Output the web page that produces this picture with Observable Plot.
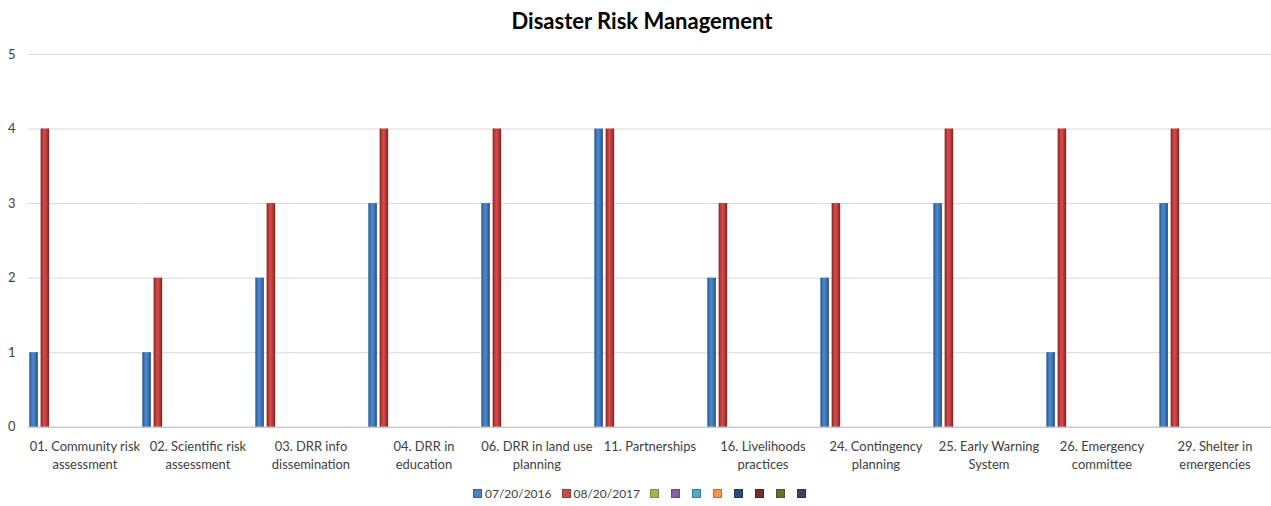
<!DOCTYPE html>
<html>
<head>
<meta charset="utf-8">
<script src="https://cdn.jsdelivr.net/npm/d3@7"></script>
<script src="https://cdn.jsdelivr.net/npm/@observablehq/plot@0.6"></script>
<style>
  html, body { margin: 0; padding: 0; background: #fff; overflow: hidden; }
  body { width: 1271px; height: 506px; font-family: Lato, "Open Sans", sans-serif; }
  #title { height: 40px; box-sizing: border-box; padding-top: 9px; padding-left: 13px; text-align: center; font-size: 22px; font-weight: bold; color: #000; line-height: 24px; }
  #chart { height: 440px; }
  #legend { height: 26px; display: flex; justify-content: center; align-items: center; padding-left: 20px; font-size: 12px; color: #404040; }
  .item { display: flex; align-items: center; margin-right: 10px; }
  .sw { width: 7px; height: 7px; margin-right: 3px; border: 0.5px solid rgba(0,0,0,0.25); }
</style>
</head>
<body>
<div id="title">Disaster Risk Management</div>
<div id="chart"></div>
<div id="legend"></div>
<script>
// ---- data ----
const categories = [
  "01. Community risk assessment", "02. Scientific risk assessment", "03. DRR info dissemination",
  "04. DRR in education", "06. DRR in land use planning", "11. Partnerships",
  "16. Livelihoods practices", "24. Contingency planning", "25. Early Warning System",
  "26. Emergency committee", "29. Shelter in emergencies"
];
const tickLabels = [
  "01. Community risk\nassessment", "02. Scientific risk\nassessment", "03. DRR info\ndissemination",
  "04. DRR in\neducation", "06. DRR in land use\nplanning", "11. Partnerships",
  "16. Livelihoods\npractices", "24. Contingency\nplanning", "25. Early Warning\nSystem",
  "26. Emergency\ncommittee", "29. Shelter in\nemergencies"
];
const values2016 = [1, 1, 2, 3, 3, 4, 2, 2, 3, 1, 3];
const values2017 = [4, 2, 3, 4, 4, 4, 3, 3, 4, 4, 4];
const seriesKeys = ["07/20/2016", "08/20/2017", "S3", "S4", "S5", "S6", "S7", "S8", "S9", "S10"];
const seriesLabels = ["07/20/2016", "08/20/2017", "", "", "", "", "", "", "", ""];
const seriesColors = ["#4f81bd", "#c0504d", "#9bbb59", "#8064a2", "#4bacc6", "#f79646", "#2c4d75", "#772c2a", "#5f7530", "#4d3b62"];
const yTicks = [0, 1, 2, 3, 4, 5];

const data = [];
categories.forEach((c, i) => {
  data.push({category: c, series: seriesKeys[0], value: values2016[i]});
  data.push({category: c, series: seriesKeys[1], value: values2017[i]});
});

const chart = Plot.plot({
  width: 1275,
  height: 440,
  marginLeft: 28,
  marginRight: 0,
  marginTop: 14,
  marginBottom: 52,
  style: {fontFamily: "Lato, 'Open Sans', sans-serif", background: "transparent"},
  fx: {domain: categories, padding: 0, round: false, axis: null, label: null},
  x: {domain: seriesKeys, padding: 0, round: false, axis: null, label: null},
  y: {domain: [0, 5], axis: null, label: null},
  marks: [
    Plot.gridY(yTicks, {stroke: "#d9d9d9", strokeOpacity: 1, strokeWidth: 1}),
    Plot.axisY(yTicks, {tickSize: 0, tickPadding: 13, fontSize: 13, fill: "#404040", label: null, tickFormat: d => String(d)}),
    Plot.barY(data.filter(d => d.series === seriesKeys[0]), {fx: "category", x: "series", y: "value", fill: "url(#gBlue)", insetLeft: 1.4, insetRight: 1.4}),
    Plot.barY(data.filter(d => d.series === seriesKeys[1]), {fx: "category", x: "series", y: "value", fill: "url(#gRed)", insetLeft: 1.4, insetRight: 1.4}),
    Plot.ruleY([0], {stroke: "#bfbfbf", strokeWidth: 1.2}),
    Plot.axisFx({anchor: "bottom", tickSize: 0, tickPadding: 11, fontSize: 13, fill: "#404040", lineHeight: 1.38, lineAnchor: "top", label: null,
      tickFormat: d => tickLabels[categories.indexOf(d)]})
  ]
});

const svg = d3.select(chart);
const defs = svg.insert("defs", ":first-child");
function grad(id, stops) {
  const g = defs.append("linearGradient").attr("id", id).attr("x1", "0").attr("x2", "1").attr("y1", "0").attr("y2", "0");
  stops.forEach(([o, c]) => g.append("stop").attr("offset", o).attr("stop-color", c));
}
grad("gBlue", [["0", "#24507f"], ["0.25", "#3f77bb"], ["0.45", "#4c88cf"], ["0.75", "#3a6fb0"], ["1", "#22497a"]]);
grad("gRed", [["0", "#7f1f1f"], ["0.25", "#c13c3b"], ["0.45", "#d24d4b"], ["0.75", "#b63636"], ["1", "#7a1e1e"]]);

document.getElementById("chart").appendChild(chart);

const legend = d3.select("#legend");
seriesKeys.forEach((k, i) => {
  const it = legend.append("div").attr("class", "item");
  it.append("div").attr("class", "sw").style("background", seriesColors[i]);
  if (seriesLabels[i]) it.append("span").text(seriesLabels[i]);
  else it.style("margin-right", "9px");
});
</script>
</body>
</html>
